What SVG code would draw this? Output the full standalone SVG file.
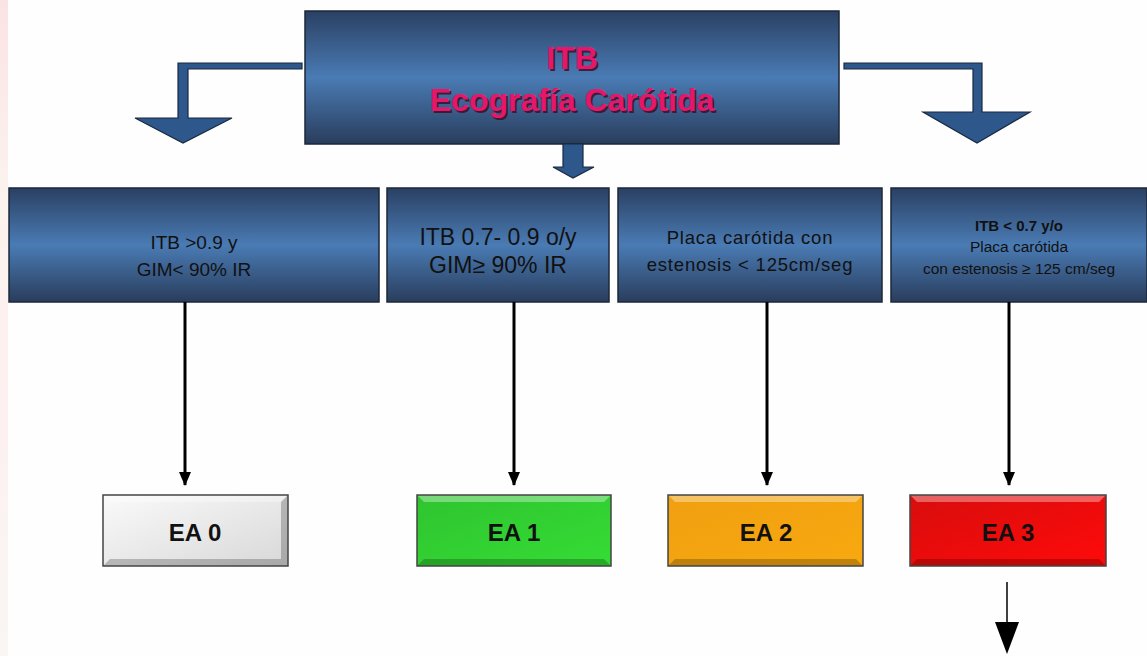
<svg xmlns="http://www.w3.org/2000/svg" width="1147" height="656" viewBox="0 0 1147 656">
<defs>
<linearGradient id="blue" x1="0" y1="0" x2="0" y2="1">
<stop offset="0" stop-color="#2a4063"/>
<stop offset="0.5" stop-color="#4a7bb4"/>
<stop offset="1" stop-color="#293d5c"/>
</linearGradient>
<linearGradient id="strip" x1="0" y1="0" x2="0" y2="1">
<stop offset="0" stop-color="#fbe3e3"/>
<stop offset="0.3" stop-color="#fbf3ee"/>
<stop offset="0.6" stop-color="#fdf0f0"/>
<stop offset="1" stop-color="#f9f6f3"/>
</linearGradient>
<linearGradient id="gGray" x1="0" y1="0" x2="1" y2="1"><stop offset="0" stop-color="#fafafa"/><stop offset="1" stop-color="#d8d8d8"/></linearGradient>
<linearGradient id="gGreen" x1="0" y1="0" x2="1" y2="1"><stop offset="0" stop-color="#2fc42f"/><stop offset="1" stop-color="#35dc35"/></linearGradient>
<linearGradient id="gOrange" x1="0" y1="0" x2="1" y2="1"><stop offset="0" stop-color="#f0a010"/><stop offset="1" stop-color="#f8a80f"/></linearGradient>
<linearGradient id="gRed" x1="0" y1="0" x2="1" y2="1"><stop offset="0" stop-color="#d80d0d"/><stop offset="1" stop-color="#ff0a0a"/></linearGradient>
<marker id="ah" markerWidth="14" markerHeight="12" refX="13" refY="6" orient="auto" markerUnits="userSpaceOnUse" viewBox="0 0 14 12">
<path d="M0,0 L14,6 L0,12 Z" fill="#000"/>
</marker>
<style>
.box{fill:url(#blue);stroke:#1d2738;stroke-width:1.5}
.lbl{font-family:"Liberation Sans",Arial,sans-serif;fill:#111;text-anchor:middle}
.big{font-family:"Liberation Sans",Arial,sans-serif;font-weight:bold;fill:#e8166a;text-anchor:middle;font-size:32px}
.shadow{fill:#3a0d22;opacity:0.8}
.ea{font-family:"Liberation Sans",Arial,sans-serif;font-weight:bold;fill:#111;text-anchor:middle;font-size:24px}
.blk{fill:#2e578c;stroke:#1a2940;stroke-width:1.2}
.con{stroke:#000;stroke-width:3;fill:none}
.hi{fill:#fff;opacity:0.35}
.lo{fill:#000;opacity:0.22}
.out{fill:none;stroke:#444;stroke-width:1.5}
</style>
</defs>
<rect x="0" y="0" width="1147" height="656" fill="#fefefe"/>
<rect x="0" y="0" width="8" height="656" fill="url(#strip)"/>

<g id="top">
<rect class="box" x="305" y="11" width="534" height="133"/>
<text class="big shadow" x="574" y="71">ITB</text>
<text class="big shadow" x="574" y="113">Ecografía Carótida</text>
<text class="big" x="572" y="69">ITB</text>
<text class="big" x="572" y="111">Ecografía Carótida</text>
</g>

<g id="block-arrows">
<polygon class="blk" points="302,63 178,63 178,118 135,118 183,143 232,118 188,118 188,69 302,69"/>
<polygon class="blk" points="844,63 982,63 982,112 1030,112 977,143 923,112 973,112 973,69 844,69"/>
<polygon class="blk" points="563,144 583,144 583,167 594,167 573,178 553,167 563,167"/>
</g>

<g id="c1">
<rect class="box" x="9" y="188" width="370" height="114"/>
<text class="lbl" font-size="19" x="194" y="249">ITB &gt;0.9 y</text>
<text class="lbl" font-size="19" x="194" y="276">GIM&lt; 90% IR</text>
</g>
<g id="c2">
<rect class="box" x="387" y="188" width="222" height="114"/>
<text class="lbl" font-size="23" x="498" y="245">ITB 0.7- 0.9 o/y</text>
<text class="lbl" font-size="23" x="498" y="273">GIM≥ 90% IR</text>
</g>
<g id="c3">
<rect class="box" x="618" y="188" width="264" height="114"/>
<text class="lbl" font-size="18.5" x="750" y="244" letter-spacing="0.8">Placa carótida con</text>
<text class="lbl" font-size="18.5" x="750" y="271" letter-spacing="0.8">estenosis &lt; 125cm/seg</text>
</g>
<g id="c4">
<rect class="box" x="891" y="188" width="256" height="114"/>
<text class="lbl" font-size="15" x="1019" y="231" font-weight="bold">ITB &lt; 0.7 y/o</text>
<text class="lbl" font-size="15.5" x="1019" y="252">Placa carótida</text>
<text class="lbl" font-size="15.5" x="1019" y="274">con estenosis ≥ 125 cm/seg</text>
</g>

<g id="connectors">
<line class="con" x1="185" y1="302" x2="185" y2="485" marker-end="url(#ah)"/>
<line class="con" x1="514" y1="302" x2="514" y2="485" marker-end="url(#ah)"/>
<line class="con" x1="767" y1="302" x2="767" y2="485" marker-end="url(#ah)"/>
<line class="con" x1="1009" y1="302" x2="1009" y2="485" marker-end="url(#ah)"/>
<line x1="1007" y1="582" x2="1007" y2="624" stroke="#000" stroke-width="1.5"/>
<polygon points="995,622 1019,622 1007,654" fill="#000"/>
</g>

<g id="ea0">
<rect x="103" y="495" width="185" height="71" fill="url(#gGray)"/>
<polygon class="hi" points="103,495 288,495 281,502 110,502"/>
<polygon class="lo" points="103,566 288,566 281,559 110,559"/>
<polygon class="lo" points="288,495 288,566 281,559 281,502" opacity="0.15"/>
<rect class="out" x="103" y="495" width="185" height="71"/>
<text class="ea" x="195" y="541">EA 0</text>
</g>
<g id="ea1">
<rect x="417" y="495" width="194" height="71" fill="url(#gGreen)"/>
<polygon class="hi" points="417,495 611,495 604,502 424,502"/>
<polygon class="lo" points="417,566 611,566 604,559 424,559"/>
<rect class="out" x="417" y="495" width="194" height="71" stroke="#3a6a3a"/>
<text class="ea" x="514" y="541">EA 1</text>
</g>
<g id="ea2">
<rect x="668" y="495" width="195" height="71" fill="url(#gOrange)"/>
<polygon class="hi" points="668,495 863,495 856,502 675,502"/>
<polygon class="lo" points="668,566 863,566 856,559 675,559"/>
<rect class="out" x="668" y="495" width="195" height="71" stroke="#4a3a1a"/>
<text class="ea" x="766" y="541">EA 2</text>
</g>
<g id="ea3">
<rect x="910" y="495" width="196" height="71" fill="url(#gRed)"/>
<polygon class="hi" points="910,495 1106,495 1099,502 917,502"/>
<polygon class="lo" points="910,566 1106,566 1099,559 917,559"/>
<rect class="out" x="910" y="495" width="196" height="71" stroke="#8a2a2a"/>
<text class="ea" x="1008" y="541">EA 3</text>
</g>
</svg>
